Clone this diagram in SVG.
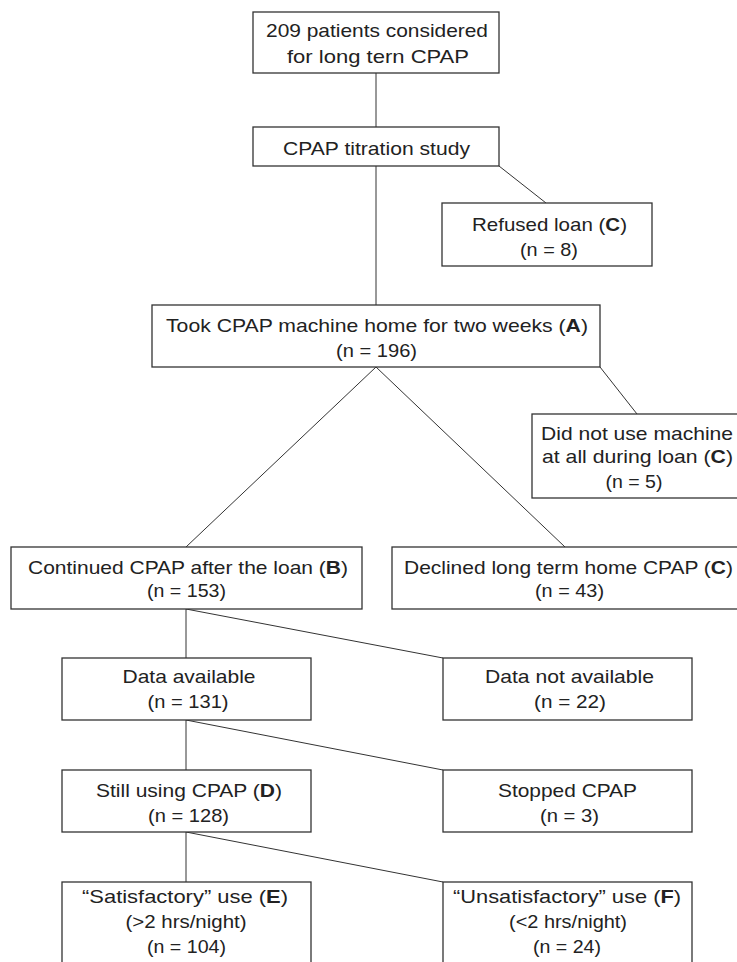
<svg xmlns="http://www.w3.org/2000/svg" width="737" height="962" viewBox="0 0 737 962">
<style>
.box{fill:#fff;stroke:#333;stroke-width:1.3}
.ln{stroke:#333;stroke-width:1;fill:none}
text{font-family:"Liberation Sans",Arial,sans-serif;font-size:19px;fill:#222;text-anchor:middle}
.b{font-weight:bold}
</style>
<rect width="737" height="962" fill="#fff"/>
<g id="connectors">
<line class="ln" x1="376" y1="73" x2="376" y2="127"/>
<line class="ln" x1="376" y1="166" x2="376" y2="305"/>
<line class="ln" x1="499" y1="166" x2="546" y2="203"/>
<line class="ln" x1="376" y1="367" x2="186" y2="547"/>
<line class="ln" x1="376" y1="367" x2="565" y2="547"/>
<line class="ln" x1="600" y1="367" x2="637" y2="414"/>
<line class="ln" x1="186" y1="609" x2="186" y2="658"/>
<line class="ln" x1="186" y1="609" x2="443" y2="658"/>
<line class="ln" x1="186" y1="720" x2="186" y2="770"/>
<line class="ln" x1="186" y1="720" x2="443" y2="770"/>
<line class="ln" x1="186" y1="832" x2="186" y2="882"/>
<line class="ln" x1="186" y1="832" x2="443" y2="882"/>
</g>
<g id="n209">
<rect class="box" x="253" y="12" width="246" height="61"/>
<text x="377" y="37" textLength="222" lengthAdjust="spacingAndGlyphs">209 patients considered</text>
<text x="378" y="63" textLength="182" lengthAdjust="spacingAndGlyphs">for long tern CPAP</text>
</g>
<g id="titration">
<rect class="box" x="253" y="127" width="246" height="39"/>
<text x="376.5" y="155" textLength="187" lengthAdjust="spacingAndGlyphs">CPAP titration study</text>
</g>
<g id="refused">
<rect class="box" x="442" y="203" width="210" height="63"/>
<text x="549.5" y="231" textLength="155" lengthAdjust="spacingAndGlyphs">Refused loan (<tspan class="b">C</tspan>)</text>
<text x="549" y="256" textLength="58" lengthAdjust="spacingAndGlyphs">(n = 8)</text>
</g>
<g id="tookhome">
<rect class="box" x="152" y="305" width="448" height="62"/>
<text x="377" y="332" textLength="422" lengthAdjust="spacingAndGlyphs">Took CPAP machine home for two weeks (<tspan class="b">A</tspan>)</text>
<text x="376.5" y="357" textLength="81" lengthAdjust="spacingAndGlyphs">(n = 196)</text>
</g>
<g id="notused">
<rect class="box" x="532" y="414" width="210" height="84"/>
<text x="637" y="440" textLength="192" lengthAdjust="spacingAndGlyphs">Did not use machine</text>
<text x="637.5" y="463" textLength="191" lengthAdjust="spacingAndGlyphs">at all during loan (<tspan class="b">C</tspan>)</text>
<text x="634" y="488" textLength="57" lengthAdjust="spacingAndGlyphs">(n = 5)</text>
</g>
<g id="continued">
<rect class="box" x="11" y="547" width="351" height="62"/>
<text x="188" y="574" textLength="320" lengthAdjust="spacingAndGlyphs">Continued CPAP after the loan (<tspan class="b">B</tspan>)</text>
<text x="186.5" y="597" textLength="79" lengthAdjust="spacingAndGlyphs">(n = 153)</text>
</g>
<g id="declined">
<rect class="box" x="392" y="547" width="352" height="62"/>
<text x="568.5" y="574" textLength="329" lengthAdjust="spacingAndGlyphs">Declined long term home CPAP (<tspan class="b">C</tspan>)</text>
<text x="569.5" y="597" textLength="69" lengthAdjust="spacingAndGlyphs">(n = 43)</text>
</g>
<g id="dataavail">
<rect class="box" x="62" y="658" width="249" height="62"/>
<text x="189" y="683" textLength="133" lengthAdjust="spacingAndGlyphs">Data available</text>
<text x="188" y="708" textLength="81" lengthAdjust="spacingAndGlyphs">(n = 131)</text>
</g>
<g id="datanot">
<rect class="box" x="443" y="658" width="249" height="62"/>
<text x="569.5" y="683" textLength="169" lengthAdjust="spacingAndGlyphs">Data not available</text>
<text x="570" y="708" textLength="72" lengthAdjust="spacingAndGlyphs">(n = 22)</text>
</g>
<g id="stillusing">
<rect class="box" x="62" y="770" width="249" height="62"/>
<text x="189" y="797" textLength="186" lengthAdjust="spacingAndGlyphs">Still using CPAP (<tspan class="b">D</tspan>)</text>
<text x="188.5" y="822" textLength="81" lengthAdjust="spacingAndGlyphs">(n = 128)</text>
</g>
<g id="stopped">
<rect class="box" x="443" y="770" width="249" height="62"/>
<text x="567.5" y="797" textLength="139" lengthAdjust="spacingAndGlyphs">Stopped CPAP</text>
<text x="569.5" y="822" textLength="59" lengthAdjust="spacingAndGlyphs">(n = 3)</text>
</g>
<g id="satisfactory">
<rect class="box" x="62" y="882" width="249" height="90"/>
<text x="185" y="903" textLength="206" lengthAdjust="spacingAndGlyphs">“Satisfactory” use (<tspan class="b">E</tspan>)</text>
<text x="186" y="928" textLength="121" lengthAdjust="spacingAndGlyphs">(&gt;2 hrs/night)</text>
<text x="186.5" y="953" textLength="79" lengthAdjust="spacingAndGlyphs">(n = 104)</text>
</g>
<g id="unsatisfactory">
<rect class="box" x="443" y="882" width="249" height="90"/>
<text x="567" y="903" textLength="228" lengthAdjust="spacingAndGlyphs">“Unsatisfactory” use (<tspan class="b">F</tspan>)</text>
<text x="568" y="928" textLength="118" lengthAdjust="spacingAndGlyphs">(&lt;2 hrs/night)</text>
<text x="567" y="953" textLength="68" lengthAdjust="spacingAndGlyphs">(n = 24)</text>
</g>
</svg>
